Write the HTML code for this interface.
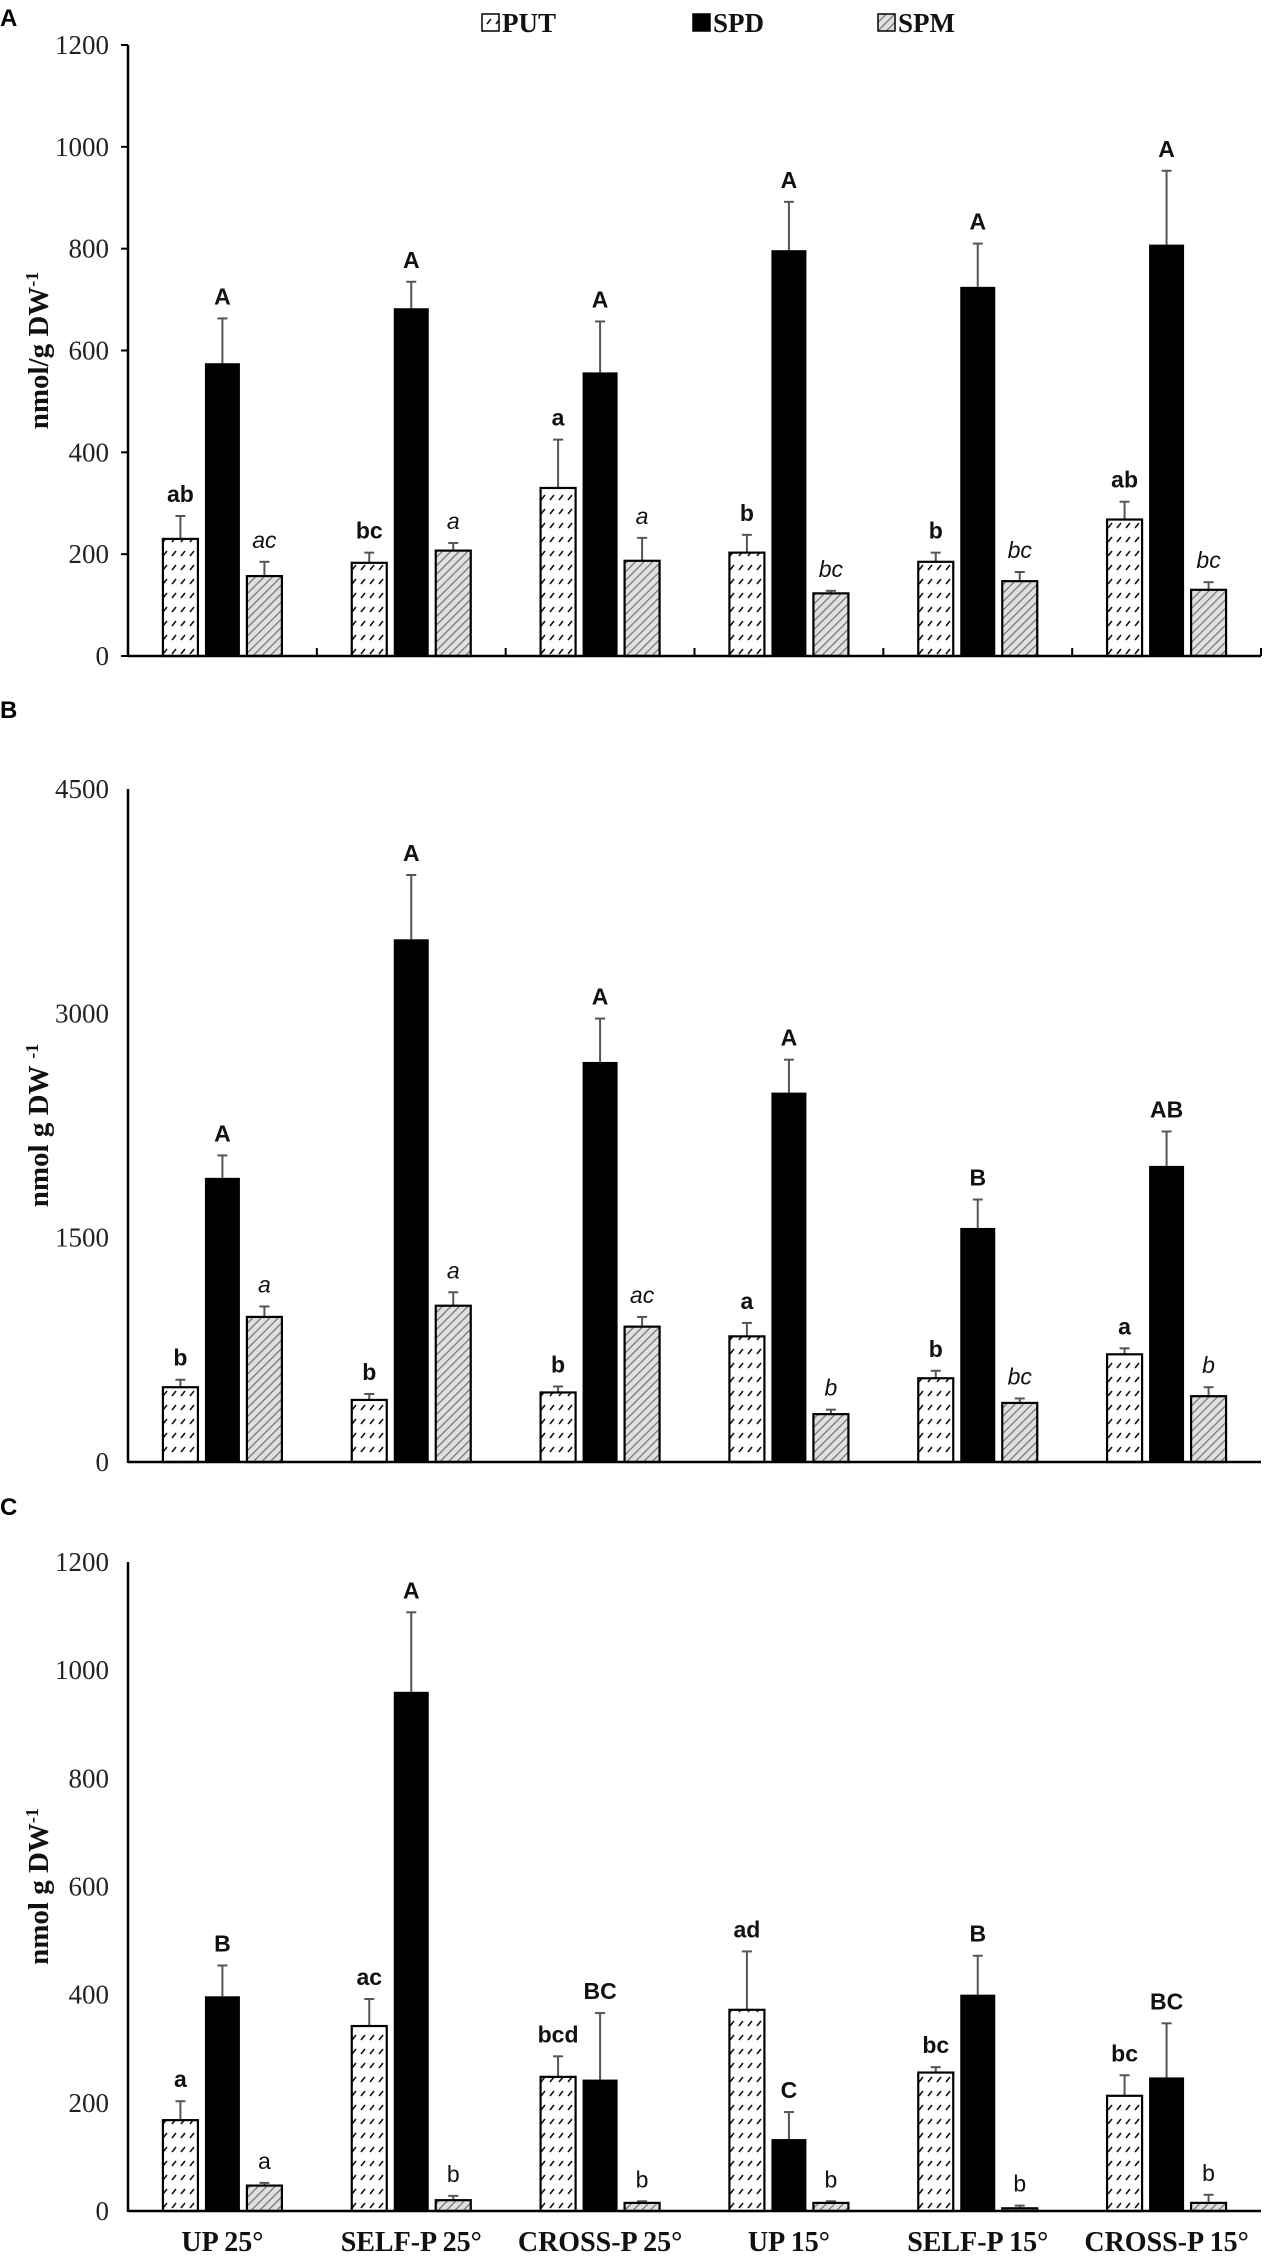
<!DOCTYPE html>
<html><head><meta charset="utf-8"><style>
html,body{margin:0;padding:0;background:#fff}
svg{display:block}
.tk{font-family:"Liberation Serif",serif;font-size:27px;fill:#222}
.yl{font-family:"Liberation Serif",serif;font-size:29px;font-weight:bold;fill:#111}
.lt{font-family:"Liberation Sans",sans-serif;font-size:23px;fill:#111}
.pl{font-family:"Liberation Sans",sans-serif;font-size:24px;font-weight:bold;fill:#000}
.xl{font-family:"Liberation Serif",serif;font-size:28px;font-weight:bold;fill:#111}
.lg{font-family:"Liberation Serif",serif;font-size:27px;font-weight:bold;fill:#111}
</style></head><body>
<svg id="chart" width="1270" height="2260" xmlns="http://www.w3.org/2000/svg">
<defs>
<pattern id="putPat" width="9" height="14" patternUnits="userSpaceOnUse">
<rect width="9" height="14" fill="#fff"/>
<line x1="1" y1="10" x2="5" y2="5" stroke="#111" stroke-width="1.6"/>
</pattern>
<pattern id="spmPat" width="6" height="6" patternUnits="userSpaceOnUse" patternTransform="rotate(45)">
<rect width="6" height="6" fill="#e0e0e0"/>
<line x1="0" y1="0" x2="0" y2="6" stroke="#707070" stroke-width="2.4"/>
</pattern>
</defs>
<g id="root"></g>
</svg>
<script>
const categories = ["UP 25°","SELF-P 25°","CROSS-P 25°","UP 15°","SELF-P 15°","CROSS-P 15°"];
const seriesNames = ["PUT","SPD","SPM"];

const aPut = [230,183,330,203,185,268];
const aSpd = [575,683,557,797,725,808];
const aSpm = [157,207,187,123,147,130];
const aPutErr = [45,20,95,35,18,35];
const aSpdErr = [88,52,100,95,85,145];
const aSpmErr = [28,15,45,5,18,15];
const aPutLab = ["ab","bc","a","b","b","ab"];
const aSpdLab = ["A","A","A","A","A","A"];
const aSpmLab = ["ac","a","a","bc","bc","bc"];
const aTicks = [0,200,400,600,800,1000,1200];

const bPut = [500,415,465,840,560,720];
const bSpd = [1900,3495,2675,2470,1565,1980];
const bSpm = [970,1045,905,320,395,440];
const bPutErr = [50,40,40,90,50,40];
const bSpdErr = [150,430,290,220,190,230];
const bSpmErr = [70,90,65,30,30,60];
const bPutLab = ["b","b","b","a","b","a"];
const bSpdLab = ["A","A","A","A","B","AB"];
const bSpmLab = ["a","a","ac","b","bc","b"];
const bTicks = [0,1500,3000,4500];

const cPut = [168,342,248,372,256,213];
const cSpd = [397,960,243,133,400,247];
const cSpm = [47,20,15,15,5,15];
const cPutErr = [35,50,38,108,10,38];
const cSpdErr = [57,147,123,50,72,100];
const cSpmErr = [5,8,3,3,5,15];
const cPutLab = ["a","ac","bcd","ad","bc","bc"];
const cSpdLab = ["B","A","BC","C","B","BC"];
const cSpmLab = ["a","b","b","b","b","b"];
const cTicks = [0,200,400,600,800,1000,1200];

const NS="http://www.w3.org/2000/svg";
const root=document.getElementById('root');
function mk(tag,attrs,parent,text){const e=document.createElementNS(NS,tag);for(const k in attrs)e.setAttribute(k,attrs[k]);if(text!==undefined)e.textContent=text;(parent||root).appendChild(e);return e;}

const X0=128,X1=1261,GW=(X1-X0)/6,BW=35,STEP=42;
function xCenter(i){return X0+GW*(i+0.5);}

function panel(cfg){
  const g=mk('g',{});
  
  
  const yMax=cfg.ticks[cfg.ticks.length-1];
  const y=v=>cfg.y0-(v/yMax)*(cfg.y0-cfg.yTop);
  const pl=mk('text',{x:0,y:cfg.labelY,class:'pl'},g,cfg.letter);
  
  
  cfg.ticks.forEach(t=>{
    const tx=mk('text',{x:X0-19,y:y(t)+9,class:'tk','text-anchor':'end'},g,String(t));
    
    
    if(cfg.yTickMarks){
      const tm=mk('line',{x1:X0-7,x2:X0,y1:y(t),y2:y(t),stroke:'#000','stroke-width':2},g);
      
      
    }
  });
  const cy=(cfg.y0+cfg.yTop)/2;
  const yl=mk('text',{x:0,y:0,class:'yl','text-anchor':'middle',transform:`translate(${cfg.ylx},${cy+cfg.ylOff}) rotate(-90)`},g);
  
  
  mk('tspan',{},yl,cfg.ylText);
  mk('tspan',{dy:-10,'font-size':18},yl,'-1');
  const series=[cfg.put,cfg.spd,cfg.spm],errs=[cfg.putErr,cfg.spdErr,cfg.spmErr],labs=[cfg.putLab,cfg.spdLab,cfg.spmLab];
  const fills=['url(#putPat)','#000','url(#spmPat)'];
  for(let s=0;s<3;s++){
    for(let i=0;i<6;i++){
      const cx=xCenter(i)+(s-1)*STEP;
      const v=series[s][i],e=errs[s][i];
      const el=mk('line',{x1:cx,x2:cx,y1:y(v),y2:y(v+e),stroke:'#555','stroke-width':2},g);
      
      
      const ec=mk('line',{x1:cx-5,x2:cx+5,y1:y(v+e),y2:y(v+e),stroke:'#555','stroke-width':2},g);
      
      
      const r=mk('rect',{x:cx-BW/2,y:y(v),width:BW,height:cfg.y0-y(v),fill:fills[s],stroke:'#000','stroke-width':s==1?0:2.2},g);
      
      
      const st=cfg.labStyle[s];
      const t=mk('text',{x:cx,y:y(v+e)-14,class:'lt','text-anchor':'middle',style:'font-style:'+(st.it?'italic':'normal')+';font-weight:'+(st.b?'bold':'normal')},g,labs[s][i]);
      
      
    }
  }
  const ax=mk('line',{x1:X0,x2:X0,y1:cfg.yTop,y2:cfg.y0+1,stroke:'#000','stroke-width':2.5},g);
  
  
  const xa=mk('line',{x1:X0,x2:X1,y1:cfg.y0,y2:cfg.y0,stroke:'#000','stroke-width':2.5},g);
  
  
  if(cfg.dividers){
    for(let i=1;i<=6;i++){
      const d=mk('line',{x1:X0+GW*i,x2:X0+GW*i,y1:cfg.y0,y2:cfg.y0-8,stroke:'#000','stroke-width':2},g);
      
      
    }
  }
  if(cfg.xLabels){
    categories.forEach((c,i)=>{
      const t=mk('text',{x:xCenter(i),y:2251,class:'xl','text-anchor':'middle'},g,c);
      
      
    });
  }
}

panel({name:'panel-a',letter:'A',labelY:26,y0:656,yTop:45,ticks:aTicks,yTickMarks:true,dividers:true,ylx:48,ylOff:0,ylText:'nmol/g DW',
  put:aPut,spd:aSpd,spm:aSpm,putErr:aPutErr,spdErr:aSpdErr,spmErr:aSpmErr,putLab:aPutLab,spdLab:aSpdLab,spmLab:aSpmLab,
  labStyle:[{b:1},{b:1},{it:1}]});
panel({name:'panel-b',letter:'B',labelY:718,y0:1462,yTop:789,ticks:bTicks,yTickMarks:false,dividers:false,ylx:48,ylOff:0,ylText:'nmol g DW ',
  put:bPut,spd:bSpd,spm:bSpm,putErr:bPutErr,spdErr:bSpdErr,spmErr:bSpmErr,putLab:bPutLab,spdLab:bSpdLab,spmLab:bSpmLab,
  labStyle:[{b:1},{b:1},{it:1}]});
panel({name:'panel-c',letter:'C',labelY:1515,y0:2211,yTop:1562,ticks:cTicks,yTickMarks:false,dividers:false,ylx:48,ylOff:0,ylText:'nmol g DW',xLabels:true,
  put:cPut,spd:cSpd,spm:cSpm,putErr:cPutErr,spdErr:cSpdErr,spmErr:cSpmErr,putLab:cPutLab,spdLab:cSpdLab,spmLab:cSpmLab,
  labStyle:[{b:1},{b:1},{}]});

const lg=mk('g',{});


const legX=[482,693,878];
const legFill=['url(#putPat)','#000','url(#spmPat)'];
seriesNames.forEach((n,i)=>{
  const r=mk('rect',{x:legX[i],y:14,width:17,height:17,fill:legFill[i],stroke:'#000','stroke-width':1.5},lg);
  
  
  const t=mk('text',{x:legX[i]+20,y:32,class:'lg'},lg,n);
  
  
});
</script>
</body></html>
